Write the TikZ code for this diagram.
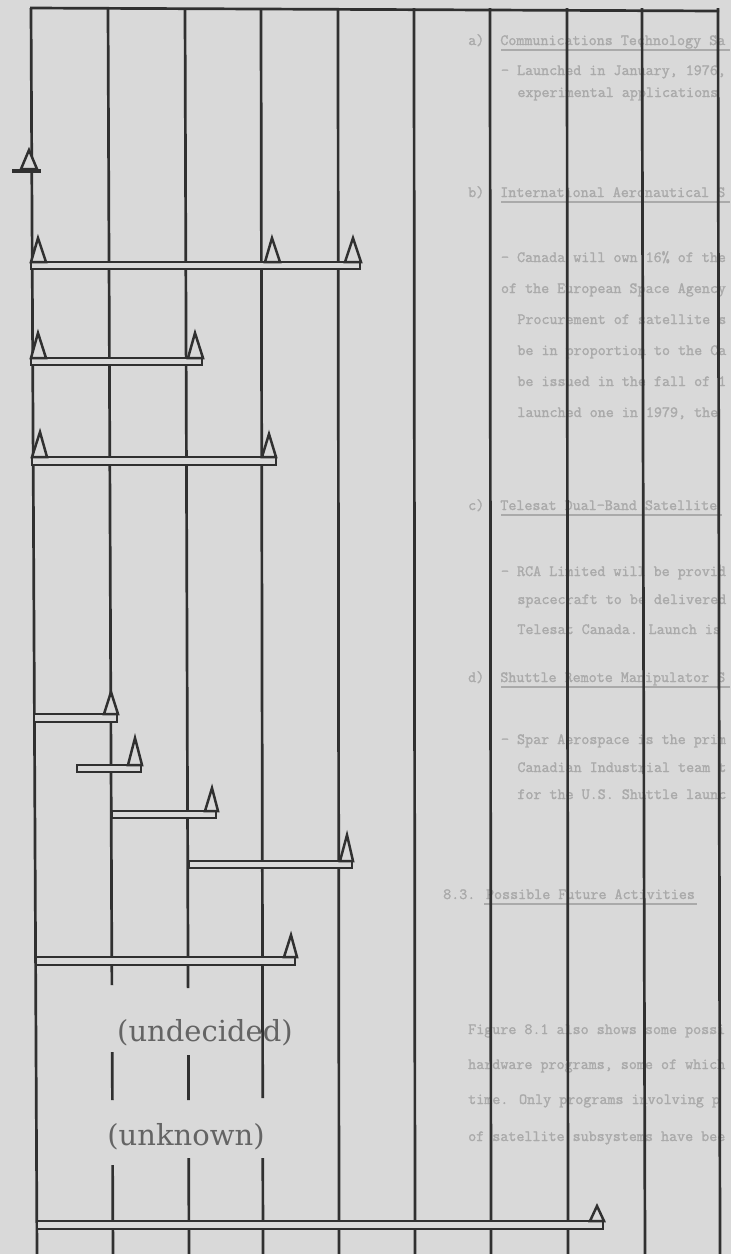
\documentclass[tikz,border=0pt]{standalone}
\usepackage{fontspec}
\newfontfamily\labelfont{DejaVu Serif}
\newfontfamily\ghostfont[FakeBold=1.6]{Latin Modern Mono}
\definecolor{bg}{RGB}{217,217,217}
\definecolor{ink}{RGB}{48,48,48}
\definecolor{lblc}{RGB}{100,100,100}
\definecolor{ghostc}{RGB}{170,170,170}
\begin{document}
\begin{tikzpicture}[x=1pt,y=-1pt,
  gridline/.style={draw=ink,line width=2.7pt},
  barbox/.style={draw=ink,line width=2.3pt,fill=bg},
  tri/.style={draw=ink,line width=2.5pt,fill=bg,line join=miter},
  lbl/.style={text=lblc,font=\labelfont\fontsize{29}{29}\selectfont,inner sep=0pt},
  ghost/.style={text=ghostc,font=\ghostfont\fontsize{15.6}{15.6}\selectfont,inner sep=0pt,anchor=base west},
  ghostline/.style={draw=ghostc,line width=1.3pt}
]
\fill[bg] (0,0) rectangle (731,1254);
\useasboundingbox (0,0) rectangle (731,1254);

% faint show-through text
\node[ghost] (ga) at (468,45) {a)\ \ Communications Technology Sa};
\draw[ghostline] (501,50) -- (730,50);
\node[ghost] (ga1) at (500.8,75) {- Launched in January, 1976,};
\node[ghost] (ga2) at (517.2,97) {experimental applications};
\node[ghost] (gb) at (468,197) {b)\ \ International Aeronautical S};
\draw[ghostline] (501,202) -- (730,202);
\node[ghost] (gb1) at (500.8,262) {- Canada will own 16\% of the};
\node[ghost] (gb2) at (500.8,293) {of the European Space Agency};
\node[ghost] (gb3) at (517.2,324) {Procurement of satellite s};
\node[ghost] (gb4) at (517.2,355) {be in proportion to the Ca};
\node[ghost] (gb5) at (517.2,386) {be issued in the fall of 1};
\node[ghost] (gb6) at (517.2,417) {launched one in 1979, the};
\node[ghost] (gc) at (468,510) {c)\ \ Telesat Dual-Band Satellite};
\draw[ghostline] (501,515) -- (722,515);
\node[ghost] (gc1) at (500.8,576) {- RCA Limited will be provid};
\node[ghost] (gc2) at (517.2,604) {spacecraft to be delivered};
\node[ghost] (gc3) at (517.2,634) {Telesat Canada. Launch is};
\node[ghost] (gd) at (468,682) {d)\ \ Shuttle Remote Manipulator S};
\draw[ghostline] (501,687) -- (730,687);
\node[ghost] (gd1) at (500.8,744) {- Spar Aerospace is the prim};
\node[ghost] (gd2) at (517.2,772) {Canadian Industrial team t};
\node[ghost] (gd3) at (517.2,799) {for the U.S. Shuttle launc};
\node[ghost] (ge) at (443,899) {8.3. Possible Future Activities};
\draw[ghostline] (484,904) -- (697,904);
\node[ghost] (ge1) at (468,1034) {Figure 8.1 also shows some possi};
\node[ghost] (ge2) at (468,1069) {hardware programs, some of which};
\node[ghost] (ge3) at (468,1104) {time. Only programs involving p};
\node[ghost] (ge4) at (468,1141) {of satellite subsystems have bee};

% top border
\draw[gridline] (30,8) -- (719,11);

% vertical grid lines (continuous ones)
\foreach \xt/\xb in {31/37,338/339,414/415,490/491,567/568,642/645,718/720}
  \draw[gridline] (\xt,8) -- (\xb,1254);
% broken lines
\draw[gridline] (108,8) -- (111.9,985);
\draw[gridline] (112.2,1052) -- (112.4,1100);
\draw[gridline] (112.6,1165) -- (113,1254);
\draw[gridline] (185,8) -- (188.1,988);
\draw[gridline] (188.4,1055) -- (188.5,1100);
\draw[gridline] (188.7,1158) -- (189,1254);
\draw[gridline] (261,8) -- (262.7,1098);
\draw[gridline] (262.8,1158) -- (263,1254);

% milestone at top left
\draw[ink,line width=3.5pt] (12,171) -- (41,171);
\draw[tri] (21,169) -- (29,150) -- (37,169) -- cycle;

% bar A
\draw[barbox] (31,262) rectangle (360,269);
\draw[tri] (31,262) -- (38,238) -- (46,262) -- cycle;
\draw[tri] (265,262) -- (272,238) -- (280,262) -- cycle;
\draw[tri] (345,262) -- (353,238) -- (361,262) -- cycle;
% bar B
\draw[barbox] (31,358) rectangle (202,365);
\draw[tri] (31,358) -- (38,333) -- (46,358) -- cycle;
\draw[tri] (188,358) -- (195,333) -- (203,358) -- cycle;
% bar C
\draw[barbox] (32,457) rectangle (276,465);
\draw[tri] (32,457) -- (40,432) -- (47,457) -- cycle;
\draw[tri] (262,457) -- (269,434) -- (276,457) -- cycle;
% bar D
\draw[barbox] (34,714) rectangle (117,722);
\draw[tri] (104,714) -- (111,692) -- (118,714) -- cycle;
% bar E
\draw[barbox] (77,765) rectangle (141,772);
\draw[tri] (128,765) -- (135,738) -- (142,765) -- cycle;
% bar F
\draw[barbox] (112,811) rectangle (216,818);
\draw[tri] (205,811) -- (212,788) -- (218,811) -- cycle;
% bar G
\draw[barbox] (189,861) rectangle (352,868);
\draw[tri] (340,861) -- (347,835) -- (353,861) -- cycle;
% bar H
\draw[barbox] (36,957) rectangle (295,965);
\draw[tri] (284,957) -- (291,935) -- (297,957) -- cycle;
% bar I
\draw[barbox] (37,1221) rectangle (603,1229);
\draw[tri] (590,1221) -- (597,1206) -- (604,1221) -- cycle;

% labels
\node[lbl] (undecided) at (205,1033) {(undecided)};
\node[lbl] (unknown) at (186,1137) {(unknown)};
\end{tikzpicture}
\end{document}
